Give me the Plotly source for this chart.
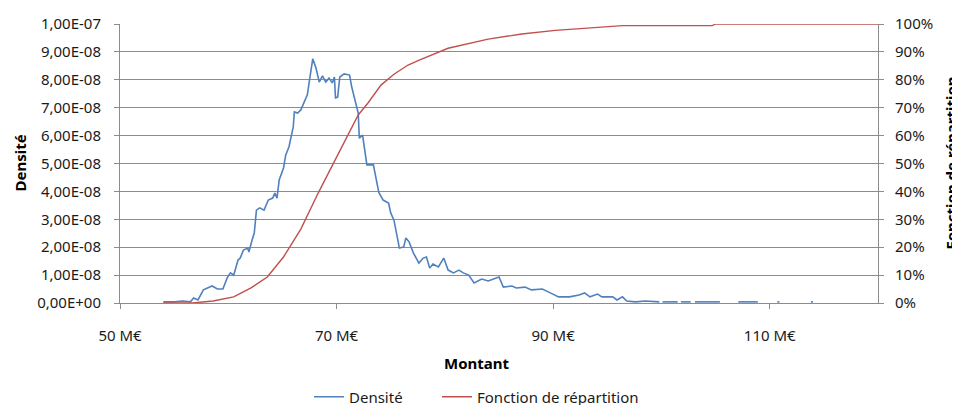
import plotly.graph_objects as go

# ---- Data ----
# Density series (x in M€, density in units of 1e-8)
MONTANT_DENSITE = [
    54.0, 55.0, 55.8, 56.5, 56.8, 57.2, 57.7, 58.1, 58.5, 59.0,
    59.5, 59.9, 60.2, 60.5, 60.9, 61.1, 61.4, 61.8, 61.9, 62.2,
    62.4, 62.6, 62.9, 63.3, 63.7, 64.1, 64.3, 64.5, 64.7, 65.1,
    65.3, 65.6, 66.0, 66.1, 66.4, 66.7, 67.0, 67.3, 67.5, 67.8,
    68.1, 68.4, 68.7, 69.0, 69.3, 69.6, 69.8, 69.9, 70.1, 70.3,
    70.7, 71.2, 71.4, 71.7, 72.0, 72.1, 72.4, 72.8, 73.4, 73.9,
    74.3, 74.8, 75.0, 75.3, 75.8, 76.2, 76.4, 76.7, 77.1, 77.6,
    78.0, 78.3, 78.6, 78.9, 79.4, 79.9, 80.3, 80.8, 81.3, 81.7,
    82.2, 82.7, 83.4, 84.0, 85.0, 85.4, 86.2, 86.6, 87.4, 88.0,
    89.0, 89.6, 90.5, 91.5, 92.4, 92.9, 93.4, 94.1, 94.5, 95.5,
    95.9, 96.4, 96.8, 97.6, 98.5, 99.8, 99.95, 100.1, 101.5, 101.65,
    101.8, 102.7, 102.9, 103.1, 105.4, 106.0, 107.1, 108.9, 109.5, 110.7,
    110.9, 112.0, 113.8, 114.0,
]
DENSITE_E8 = [
    0.04, 0.04, 0.07, 0.04, 0.18, 0.11, 0.47, 0.54, 0.61, 0.50,
    0.50, 0.90, 1.08, 1.00, 1.54, 1.61, 1.90, 1.97, 1.83, 2.26,
    2.51, 3.33, 3.41, 3.33, 3.69, 3.76, 3.94, 3.76, 4.41, 4.84,
    5.30, 5.59, 6.31, 6.85, 6.81, 6.92, 7.20, 7.46, 7.99, 8.75,
    8.42, 7.92, 8.14, 7.92, 8.06, 7.89, 8.10, 7.35, 7.38, 8.10,
    8.21, 8.17, 7.74, 7.28, 6.81, 5.91, 6.02, 4.95, 4.95, 3.96,
    3.69, 3.58, 3.23, 2.97, 1.97, 2.01, 2.33, 2.19, 1.79, 1.43,
    1.61, 1.65, 1.25, 1.40, 1.29, 1.61, 1.18, 1.08, 1.18, 1.08,
    1.00, 0.72, 0.86, 0.79, 0.93, 0.57, 0.61, 0.54, 0.57, 0.47,
    0.50, 0.39, 0.22, 0.22, 0.29, 0.36, 0.22, 0.32, 0.22, 0.22,
    0.11, 0.22, 0.07, 0.04, 0.07, 0.04, None, 0.04, 0.04, None,
    0.04, 0.04, None, 0.04, 0.04, None, 0.04, 0.04, None, 0.04,
    0.04, None, 0.04, 0.04,
]

# Cumulative distribution (x in M€, value in %)
MONTANT_REPARTITION = [
    54.0, 56.7, 58.6, 60.5, 62.1, 63.6, 65.1, 66.7, 68.3, 69.8,
    71.3, 72.0, 72.9, 74.1, 75.3, 76.6, 77.8, 80.3, 84.0, 87.1,
    90.2, 93.6, 96.4, 104.7, 105.0, 120.0,
]
REPARTITION_PCT = [
    0.0, 0.0, 0.7, 2.2, 5.4, 9.3, 16.5, 26.5, 39.4, 50.9,
    62.0, 67.4, 71.7, 78.1, 82.0, 85.3, 87.3, 91.3, 94.6, 96.4,
    97.7, 98.7, 99.4, 99.4, 100.0, 100.0,
]

X_TICKS = [50, 70, 90, 110]
X_TICK_LABELS = ["50 M€", "70 M€", "90 M€", "110 M€"]
Y1_TICKS_E8 = [0, 1, 2, 3, 4, 5, 6, 7, 8, 9, 10]
Y1_TICK_LABELS = ["0,00E+00", "1,00E-08", "2,00E-08", "3,00E-08", "4,00E-08",
                  "5,00E-08", "6,00E-08", "7,00E-08", "8,00E-08", "9,00E-08",
                  "1,00E-07"]
Y2_TICKS_PCT = [0, 10, 20, 30, 40, 50, 60, 70, 80, 90, 100]
Y2_TICK_LABELS = [f"{v}%" for v in Y2_TICKS_PCT]

BLUE = "#4F81BD"
RED = "#C0504D"
GRID = "#8C8C8C"
FONT = "Noto Sans"
TXT = "#1a1a1a"

dens = [None if v is None else v * 1e-8 for v in DENSITE_E8]
cdf = [v / 100 for v in REPARTITION_PCT]

fig = go.Figure()
fig.add_trace(go.Scatter(
    x=MONTANT_DENSITE, y=dens, mode="lines", name="Densité",
    line=dict(color=BLUE, width=1.6), connectgaps=False, yaxis="y",
    legend="legend",
))
fig.add_trace(go.Scatter(
    x=MONTANT_REPARTITION, y=cdf, mode="lines", name="Fonction de répartition",
    line=dict(color=RED, width=1.4), yaxis="y2", legend="legend2",
))

axis_common = dict(
    showline=True, linecolor=GRID, linewidth=1,
    ticks="outside", ticklen=5, tickcolor=GRID, tickwidth=1,
    tickfont=dict(family=FONT, size=15, color=TXT),
    zeroline=False,
)

legend_common = dict(
    orientation="h", xanchor="left", y=-0.337, yanchor="middle",
    font=dict(family=FONT, size=15, color=TXT),
    bgcolor="rgba(0,0,0,0)",
)

# The page body has an 8px margin, so the figure is sized/offset to land
# the plot area at the reference's pixel positions in the 960x405 window.
fig.update_layout(
    width=952, height=397,
    paper_bgcolor="white", plot_bgcolor="white",
    margin=dict(l=112, r=82, t=16, b=102, autoexpand=False),
    font=dict(family=FONT, size=15, color=TXT),
    xaxis=dict(
        range=[50, 120], tickvals=X_TICKS, ticktext=X_TICK_LABELS,
        showgrid=False, ticklabelstandoff=14, **axis_common,
    ),
    yaxis=dict(
        range=[0, 1e-7], tickvals=[v * 1e-8 for v in Y1_TICKS_E8],
        ticktext=Y1_TICK_LABELS, showgrid=True, gridcolor=GRID, gridwidth=1,
        ticklabelstandoff=10, **axis_common,
    ),
    yaxis2=dict(
        range=[0, 1], overlaying="y", side="right",
        tickvals=[v / 100 for v in Y2_TICKS_PCT], ticktext=Y2_TICK_LABELS,
        showgrid=False, ticklabelstandoff=8, **axis_common,
    ),
    showlegend=True,
    legend=dict(x=(301 - 112) / 758, **legend_common),
    legend2=dict(x=(429 - 112) / 758, **legend_common),
    annotations=[
        dict(text="<b>Montant</b>", xref="paper", yref="paper",
             x=(477 - 120) / 758, y=(303 - 363) / 279,
             xanchor="center", yanchor="middle", showarrow=False,
             font=dict(family=FONT, size=15, color="#000")),
        dict(text="<b>Densité</b>", xref="paper", yref="paper",
             x=(19 - 120) / 758, y=0.5, textangle=-90,
             xanchor="center", yanchor="middle", showarrow=False,
             font=dict(family=FONT, size=15, color="#000")),
        dict(text="<b>Fonction de répartition</b>", xref="paper", yref="paper",
             x=(950 - 120) / 758, y=0.5, textangle=-90,
             xanchor="center", yanchor="middle", showarrow=False,
             font=dict(family=FONT, size=15, color="#000")),
    ],
)

fig.write_html("out.html")
